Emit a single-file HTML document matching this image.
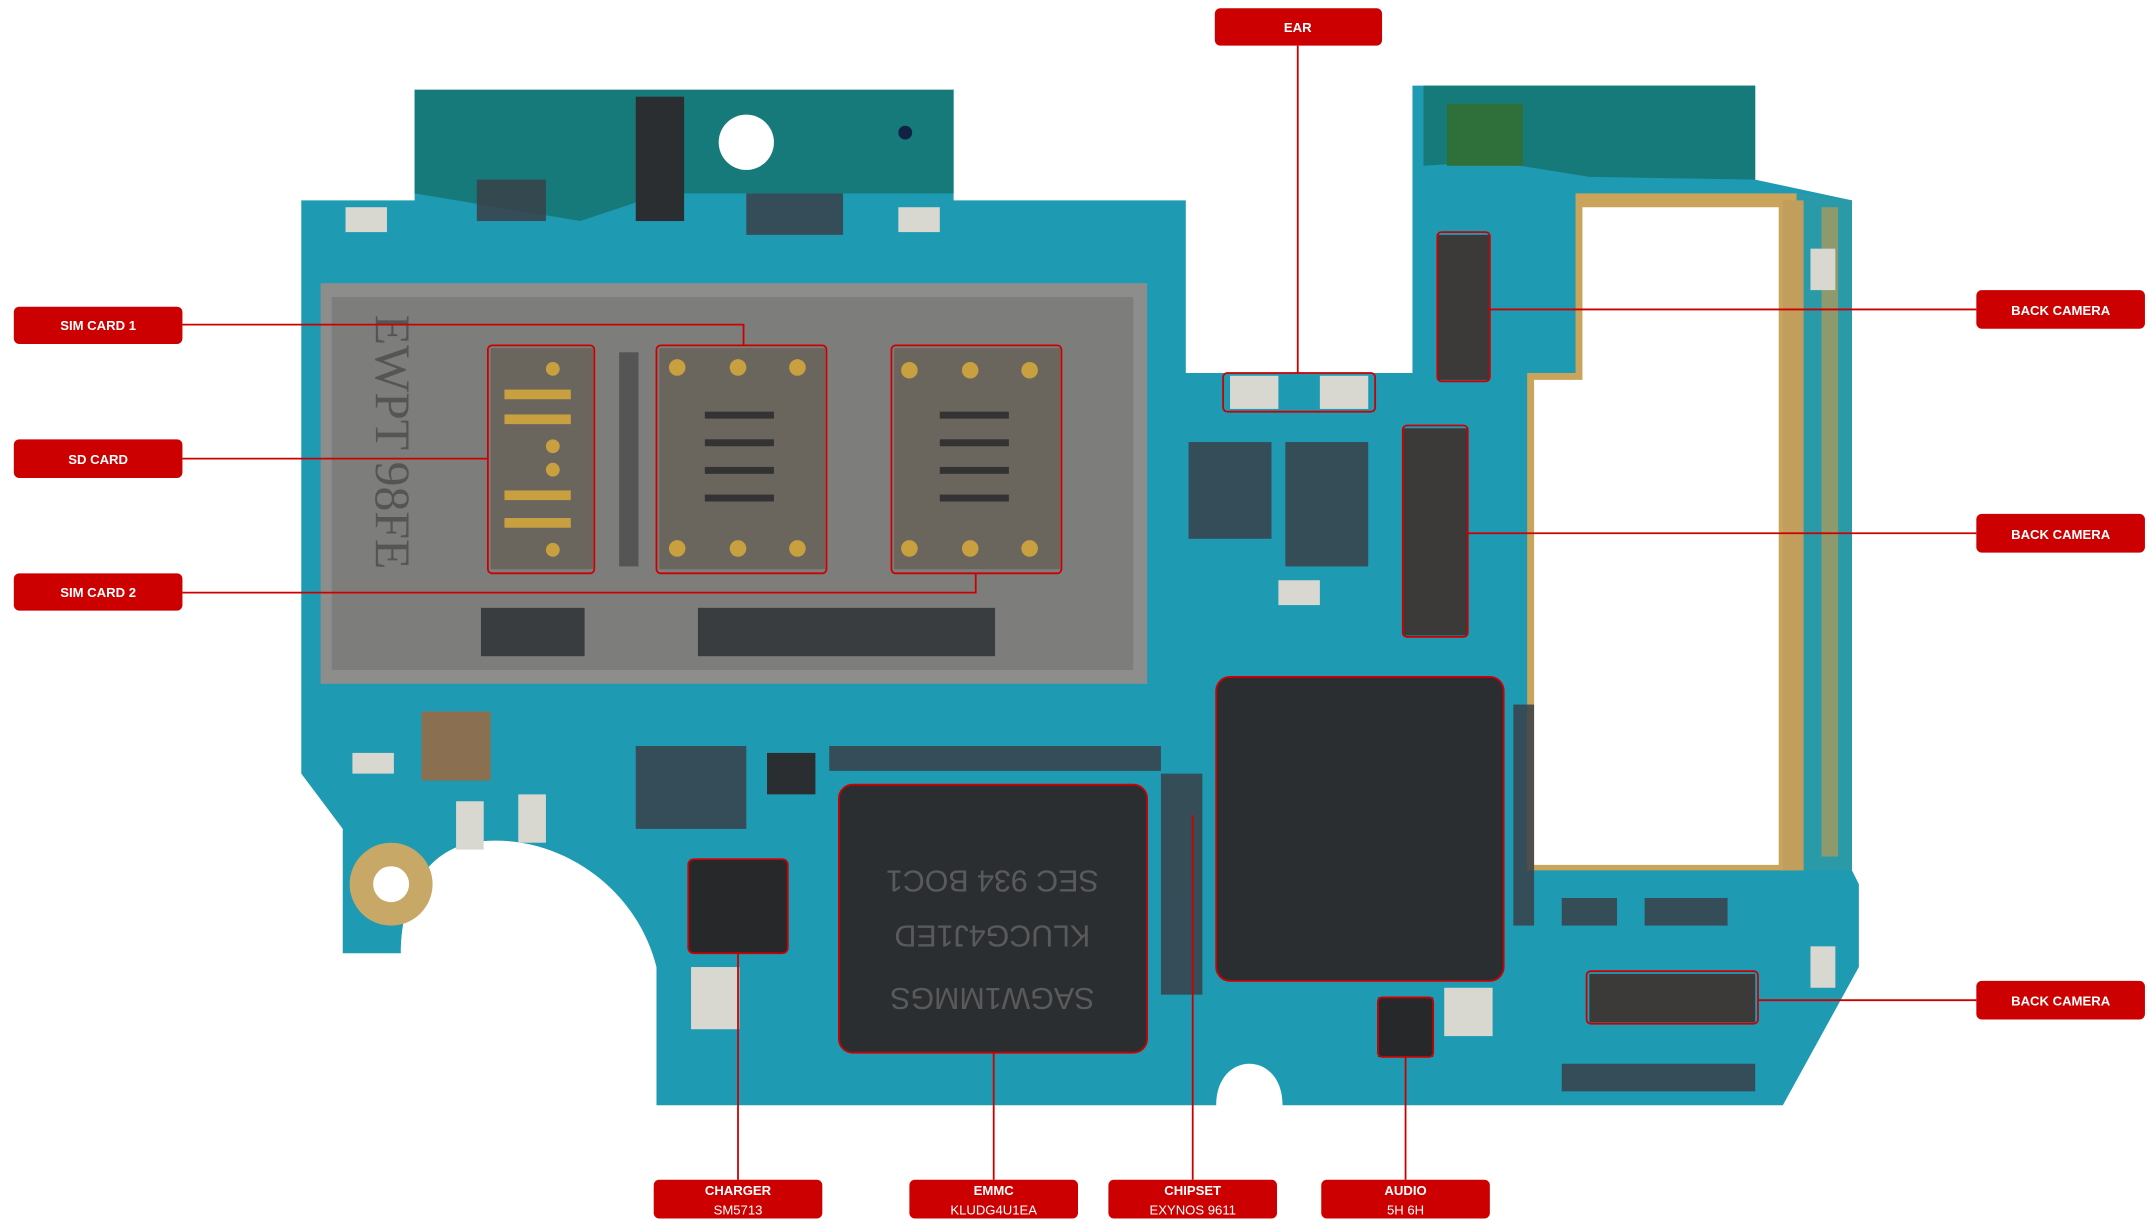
<!DOCTYPE html>
<html><head><meta charset="utf-8"><style>
html,body{margin:0;padding:0;background:#fff;}
svg{display:block;}
text{font-family:"Liberation Sans",sans-serif;font-weight:bold;fill:#fff;text-anchor:middle;}
</style></head><body>
<svg width="2156" height="1224" viewBox="0 0 1560 886" preserveAspectRatio="none" xmlns="http://www.w3.org/2000/svg">
<rect width="1560" height="886" fill="#fff"/>
<!-- board -->
<path d="M218,145 L300,145 L300,65 L690,65 L690,145 L858,145 L858,270 L1022,270 L1022,62 L1270,62 L1270,130 L1340,145 L1340,630 L1345,640 L1345,700 L1290,800 L928,800 C928,760 880,760 880,800 L475,800 L475,700 C460,640 400,600 340,610 C300,620 290,660 290,690 L248,690 L248,600 L218,560 Z" fill="#1f9ab3"/>
<path d="M300,65 L690,65 L690,140 L480,140 L420,160 L360,150 L300,140 Z" fill="#167a7a"/>
<path d="M1030,62 L1270,62 L1270,130 L1150,128 L1100,120 L1060,118 L1030,120 Z" fill="#167a7a"/>
<!-- white window with gold frame -->
<path d="M1140,140 L1300,140 L1300,630 L1105,630 L1105,270 L1140,270 Z" fill="#c9a45a"/>
<path d="M1145,150 L1287,150 L1287,626 L1110,626 L1110,275 L1145,275 Z" fill="#fff"/>
<path d="M1300,140 L1340,145 L1340,630 L1300,630 Z" fill="#2a9aa8"/>
<path d="M1290,145 L1305,145 L1305,630 L1290,630 Z" fill="#c29e5c"/>
<path d="M1318,150 L1330,150 L1330,620 L1318,620 Z" fill="#b99a55" opacity="0.7"/>
<circle cx="540" cy="103" r="20" fill="#fff"/>
<circle cx="655" cy="96" r="5" fill="#124"/>
<circle cx="283" cy="640" r="30" fill="#c8a866"/>
<circle cx="283" cy="640" r="13" fill="#fff"/>
<!-- sim tray -->
<rect x="232" y="205" width="598" height="290" fill="#8d8e8c"/>
<rect x="240" y="215" width="580" height="270" fill="#7d7e7b"/>
<rect x="355" y="252" width="74" height="160" fill="#6a655d"/>
<rect x="477" y="252" width="120" height="160" fill="#6a655d"/>
<rect x="647" y="252" width="120" height="160" fill="#6a655d"/>
<g fill="#c9a040">
<circle cx="400" cy="267" r="5"/><rect x="365" y="282" width="48" height="7"/><rect x="365" y="300" width="48" height="7"/><circle cx="400" cy="323" r="5"/><circle cx="400" cy="340" r="5"/><rect x="365" y="355" width="48" height="7"/><rect x="365" y="375" width="48" height="7"/><circle cx="400" cy="398" r="5"/>
<circle cx="490" cy="266" r="6"/><circle cx="534" cy="266" r="6"/><circle cx="577" cy="266" r="6"/><circle cx="490" cy="397" r="6"/><circle cx="534" cy="397" r="6"/><circle cx="577" cy="397" r="6"/>
<circle cx="658" cy="268" r="6"/><circle cx="702" cy="268" r="6"/><circle cx="745" cy="268" r="6"/><circle cx="658" cy="397" r="6"/><circle cx="702" cy="397" r="6"/><circle cx="745" cy="397" r="6"/>
</g>
<g fill="#333"><rect x="510" y="298" width="50" height="5"/><rect x="510" y="318" width="50" height="5"/><rect x="510" y="338" width="50" height="5"/><rect x="510" y="358" width="50" height="5"/>
<rect x="680" y="298" width="50" height="5"/><rect x="680" y="318" width="50" height="5"/><rect x="680" y="338" width="50" height="5"/><rect x="680" y="358" width="50" height="5"/>
<rect x="448" y="255" width="14" height="155" fill="#555"/></g>
<rect x="348" y="440" width="75" height="35" fill="#3a3d40"/>
<rect x="505" y="440" width="215" height="35" fill="#3a3d40"/>
<text x="272" y="320" transform="rotate(90 272 320)" style="font-family:'Liberation Serif',serif;font-size:36px;fill:#555;font-weight:normal">EWPT 98FE</text>
<!-- small components -->
<g fill="#d8d8d0">
<rect x="250" y="150" width="30" height="18"/><rect x="650" y="150" width="30" height="18"/><rect x="255" y="545" width="30" height="15"/><rect x="330" y="580" width="20" height="35"/><rect x="375" y="575" width="20" height="35"/>
<rect x="890" y="272" width="35" height="24"/><rect x="955" y="272" width="35" height="24"/><rect x="1310" y="180" width="18" height="30"/><rect x="1310" y="685" width="18" height="30"/>
<rect x="500" y="700" width="35" height="45"/><rect x="1045" y="715" width="35" height="35"/><rect x="925" y="420" width="30" height="18"/>
</g>
<g fill="#3a4048" opacity="0.85">
<rect x="460" y="540" width="80" height="60"/><rect x="600" y="540" width="240" height="18"/><rect x="860" y="320" width="60" height="70"/><rect x="930" y="320" width="60" height="90"/><rect x="540" y="140" width="70" height="30"/><rect x="345" y="130" width="50" height="30"/>
<rect x="1130" y="650" width="40" height="20"/><rect x="1190" y="650" width="60" height="20"/><rect x="1130" y="770" width="140" height="20"/><rect x="1095" y="510" width="15" height="160"/><rect x="840" y="560" width="30" height="160"/>
</g>
<!-- chips -->
<rect x="607" y="568" width="223" height="194" rx="10" fill="#2b2e31"/>
<rect x="880" y="490" width="208" height="220" rx="10" fill="#2b2e31"/>
<g style="font-family:'Liberation Mono',monospace;font-size:22px;fill:#555;font-weight:normal" transform="rotate(180 718 660)">
<text x="718" y="605" style="fill:#5a5a5a;font-weight:normal">SAGW1MMGS</text>
<text x="718" y="650" style="fill:#5a5a5a;font-weight:normal">KLUCG4J1ED</text>
<text x="718" y="690" style="fill:#5a5a5a;font-weight:normal">SEC 934 BOC1</text>
</g>
<rect x="498" y="622" width="72" height="68" rx="4" fill="#262829"/>
<rect x="997" y="722" width="40" height="43" fill="#262829"/>
<rect x="1040" y="170" width="38" height="105" fill="#3b3a38"/>
<rect x="1015" y="310" width="47" height="150" fill="#3b3a38"/>
<rect x="1150" y="705" width="120" height="35" fill="#3b3a38"/>
<rect x="1047" y="75" width="55" height="45" fill="#2f6f3a"/>
<rect x="305" y="515" width="50" height="50" fill="#8a7050"/>
<rect x="555" y="545" width="35" height="30" fill="#2b2e31"/>
<rect x="460" y="70" width="35" height="90" fill="#2b2e31"/>
<!-- red outlines -->
<g fill="none" stroke="#cc0000" stroke-width="1.3">
<rect x="353" y="250" width="77" height="165" rx="3"/>
<rect x="475" y="250" width="123" height="165" rx="3"/>
<rect x="645" y="250" width="123" height="165" rx="3"/>
<rect x="885" y="270" width="110" height="28" rx="3"/>
<rect x="1040" y="168" width="38" height="108" rx="3"/>
<rect x="1015" y="308" width="47" height="153" rx="3"/>
<rect x="1148" y="703" width="124" height="38" rx="3"/>
<rect x="607" y="568" width="223" height="194" rx="10"/>
<rect x="880" y="490" width="208" height="220" rx="10"/>
<rect x="498" y="622" width="72" height="68" rx="4"/>
<rect x="997" y="722" width="40" height="43" rx="3"/>
</g>
<!-- connector lines -->
<g fill="none" stroke="#cc0000" stroke-width="1.3">
<polyline points="132,235 538,235 538,250"/>
<line x1="132" y1="332" x2="353" y2="332"/>
<polyline points="132,429 706,429 706,415"/>
<line x1="939" y1="33" x2="939" y2="270"/>
<line x1="1430" y1="224" x2="1078" y2="224"/>
<line x1="1430" y1="386" x2="1062" y2="386"/>
<line x1="1430" y1="724" x2="1272" y2="724"/>
<line x1="534" y1="690" x2="534" y2="854"/>
<line x1="719" y1="762" x2="719" y2="854"/>
<line x1="863" y1="590" x2="863" y2="854"/>
<line x1="1017" y1="765" x2="1017" y2="854"/>
</g>
<!-- labels -->
<g fill="#cc0000">
<rect x="879" y="6" width="121" height="27" rx="4"/>
<rect x="10" y="222" width="122" height="27" rx="4"/>
<rect x="10" y="318" width="122" height="28" rx="4"/>
<rect x="10" y="415" width="122" height="27" rx="4"/>
<rect x="1430" y="210" width="122" height="28" rx="4"/>
<rect x="1430" y="372" width="122" height="28" rx="4"/>
<rect x="1430" y="710" width="122" height="28" rx="4"/>
<rect x="473" y="854" width="122" height="28" rx="4"/>
<rect x="658" y="854" width="122" height="28" rx="4"/>
<rect x="802" y="854" width="122" height="28" rx="4"/>
<rect x="956" y="854" width="122" height="28" rx="4"/>
</g>
<g font-size="9.5">
<text x="939" y="23">EAR</text>
<text x="71" y="239">SIM CARD 1</text>
<text x="71" y="336">SD CARD</text>
<text x="71" y="432">SIM CARD 2</text>
<text x="1491" y="228">BACK CAMERA</text>
<text x="1491" y="390">BACK CAMERA</text>
<text x="1491" y="728">BACK CAMERA</text>
<text x="534" y="865">CHARGER</text>
<text x="719" y="865">EMMC</text>
<text x="863" y="865">CHIPSET</text>
<text x="1017" y="865">AUDIO</text>
</g>
<g font-size="9.5">
<text x="534" y="879" style="font-weight:normal">SM5713</text>
<text x="719" y="879" style="font-weight:normal">KLUDG4U1EA</text>
<text x="863" y="879" style="font-weight:normal">EXYNOS 9611</text>
<text x="1017" y="879" style="font-weight:normal">5H 6H</text>
</g>
</svg>
</body></html>
